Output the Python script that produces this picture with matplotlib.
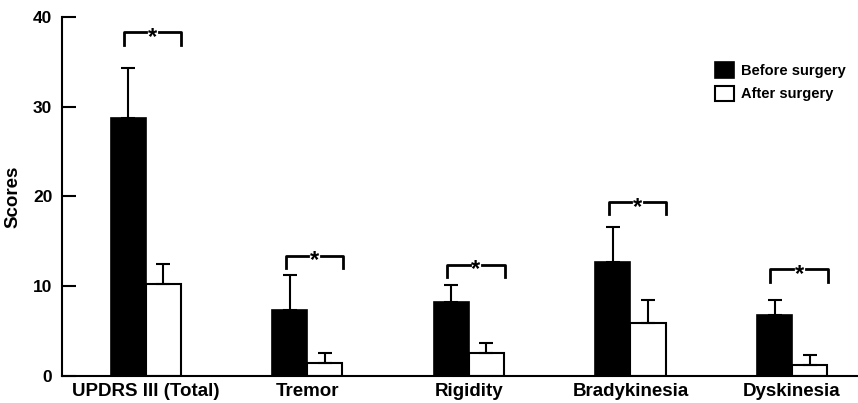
import numpy as np
import matplotlib.pyplot as plt
from matplotlib.patches import Patch

plt.rcParams['font.family'] = ['Liberation Sans', 'DejaVu Sans']
plt.rcParams['font.weight'] = 'bold'

# Datos
categorias = ['UPDRS III (Total)', 'Tremor', 'Rigidity', 'Bradykinesia', 'Dyskinesia']
antes = [28.7, 7.35, 8.2, 12.7, 6.8]
antes_err = [5.6, 3.9, 1.9, 3.9, 1.7]
despues = [10.25, 1.45, 2.55, 5.9, 1.2]
despues_err = [2.25, 1.1, 1.15, 2.6, 1.1]
altura_corchete = [38.3, 13.4, 12.4, 19.4, 11.9]

x = np.arange(len(categorias))
w = 0.217

fig = plt.figure(figsize=(8.58, 4.03), dpi=100)
ax = fig.add_axes([0.0723, 0.067, 0.9277, 0.891])

ax.bar(x - w / 2, antes, w, color='black', edgecolor='black', linewidth=1.2)
ax.bar(x + w / 2, despues, w, color='white', edgecolor='black', linewidth=1.5)
ax.errorbar(x - w / 2, antes, yerr=[np.zeros(len(x)), antes_err], fmt='none',
            ecolor='black', elinewidth=1.5, capsize=5, capthick=1.5)
ax.errorbar(x + w / 2, despues, yerr=[np.zeros(len(x)), despues_err], fmt='none',
            ecolor='black', elinewidth=1.5, capsize=5, capthick=1.5)

# corchetes de significancia
for i, h in enumerate(altura_corchete):
    izq = i - w / 2 - 0.025
    der = i + w + 0.005
    mid = (izq + der) / 2
    gap = 0.04
    ax.plot([izq, izq, mid - gap], [h - 1.4, h, h], color='black', lw=2)
    ax.plot([mid + gap, der, der], [h, h, h - 1.4], color='black', lw=2)
    ax.text(mid, h - 1.3, '*', ha='center', va='baseline', fontsize=17, fontweight='bold')

ax.set_xlim(-0.517, 4.408)
ax.set_ylim(0, 40)
ax.set_yticks([0, 10, 20, 30, 40])
ax.set_xticks(x)
ax.set_xticklabels(categorias, fontsize=13.5, fontweight='bold')
ax.tick_params(axis='x', length=0, pad=5)
ax.tick_params(axis='y', direction='in', length=10, width=1.5, pad=7, labelsize=12.5)
for lab in ax.get_yticklabels():
    lab.set_fontweight('bold')
ax.set_ylabel('Scores', fontsize=13.5, fontweight='bold', labelpad=8)

ax.spines['top'].set_visible(False)
ax.spines['right'].set_visible(False)
ax.spines['left'].set_linewidth(1.5)
ax.spines['bottom'].set_linewidth(1.5)

handles = [Patch(facecolor='black', edgecolor='black', linewidth=1.2),
           Patch(facecolor='white', edgecolor='black', linewidth=1.5)]
ax.legend(handles, ['Before surgery', 'After surgery'], loc='upper left',
          bbox_to_anchor=(0.804, 0.91), frameon=False,
          prop={'size': 10.5, 'weight': 'bold'},
          handlelength=1.3, handleheight=1.3, handletextpad=0.5, labelspacing=0.5)

fig.savefig('out.png', dpi=100)
